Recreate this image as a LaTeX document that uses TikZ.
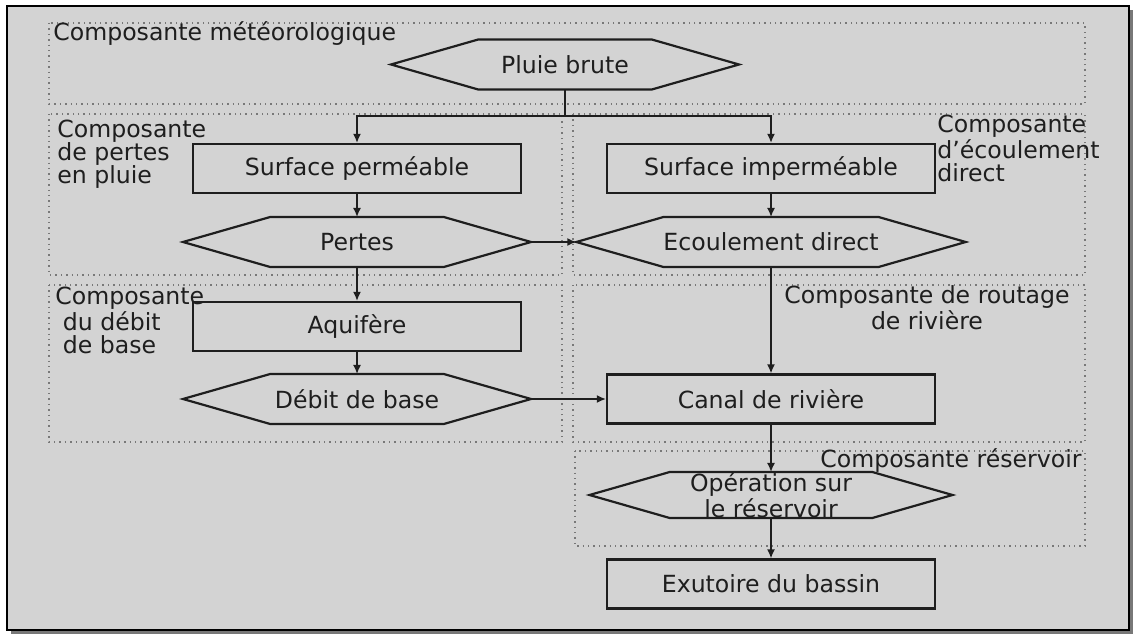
\documentclass[tikz,border=0pt]{standalone}
\usepackage{fontspec}
\setmainfont{DejaVu Sans}
\usetikzlibrary{arrows.meta,shapes.symbols}

\definecolor{fond}{RGB}{211,211,211}
\definecolor{ombre}{RGB}{120,120,120}
\definecolor{trait}{RGB}{30,30,30}

\tikzset{
  zone/.style={draw=ombre, dotted, line width=0.7pt},
  boite/.style={draw=trait, line width=1.1pt, minimum width=164pt, minimum height=24.5pt, inner sep=0pt},
  hexa/.style={draw=trait, line width=1.1pt, signal, signal to=west and east, signal pointer angle=32,
    minimum width=174pt, minimum height=25pt, inner sep=0pt, outer sep=0pt, align=center},
  fleche/.style={draw=trait, line width=0.8pt, -{Latex[length=4.5pt,width=4pt]}},
  titre/.style={inner sep=0pt, align=left, font=\fontsize{11.8}{11.5}\selectfont},
}

\begin{document}
\begin{tikzpicture}[x=0.5pt, y=-0.5pt, font=\fontsize{11.8}{11.5}\selectfont, text=trait]
  \useasboundingbox[fill=white] (0,0) rectangle (1135,636);
  % cadre
  \fill[ombre] (11,10) rectangle (1133,634);
  \draw[fill=fond, line width=1pt] (7,6) rectangle (1129,630);

  % zones
  \draw[zone] (49,23) rectangle (1085,104);
  \draw[zone] (49,114) rectangle (562,275);
  \draw[zone] (573,114) rectangle (1085,275);
  \draw[zone] (49,285) rectangle (562,442);
  \draw[zone] (573,285) rectangle (1085,442);
  \draw[zone] (575,451) rectangle (1085,546);

  \node[titre, anchor=west] (tmeteo) at (53,34) {Composante météorologique};
  \node[titre, anchor=north west] (tpertes) at (57,120) {Composante\\de pertes\\en pluie};
  \node[titre, anchor=north west] (tdirect) at (937,115) {Composante\\d’écoulement\\direct};
  \node[titre, anchor=north west] (tbase) at (55,287) {Composante\\\ du débit\\\ de base};
  \node[titre, anchor=center, align=center] (troutage) at (927,308) {Composante de routage\\de rivière};
  \node[titre, anchor=east] (treserv) at (1082,461) {Composante réservoir};

  % blocs
  \node[hexa] (pluie) at (565,64.5) {Pluie brute};
  \node[boite] (perm) at (357,168.5) {Surface perméable};
  \node[boite] (imperm) at (771,168.5) {Surface imperméable};
  \node[hexa] (pertes) at (357,242) {Pertes};
  \node[hexa] (ecoul) at (771,242) {Ecoulement direct};
  \node[boite] (aquif) at (357,326.5) {Aquifère};
  \node[hexa] (debit) at (357,399) {Débit de base};
  \node[boite] (canal) at (771,399) {Canal de rivière};
  \node[hexa, minimum width=181.5pt, minimum height=23pt] (oper) at (771,495) {Opération sur\\le réservoir};
  \node[boite] (exut) at (771,584) {Exutoire du bassin};

  % liaisons
  \coordinate (split) at (pluie.south |- 0,116);
  \draw[trait, line width=0.8pt] (pluie.south) -- (split);
  \draw[fleche] (split) -| (perm.north);
  \draw[fleche] (split) -| (imperm.north);
  \draw[fleche] (perm) -- (pertes);
  \draw[fleche] (imperm) -- (ecoul);
  \draw[fleche] (pertes.east) -- (ecoul.west);
  \draw[fleche] (pertes) -- (aquif);
  \draw[fleche] (aquif) -- (debit);
  \draw[fleche] (debit.east) -- (canal.west);
  \draw[fleche] (ecoul) -- (canal);
  \draw[fleche] (canal) -- (oper);
  \draw[fleche] (oper) -- (exut);
\end{tikzpicture}
\end{document}
